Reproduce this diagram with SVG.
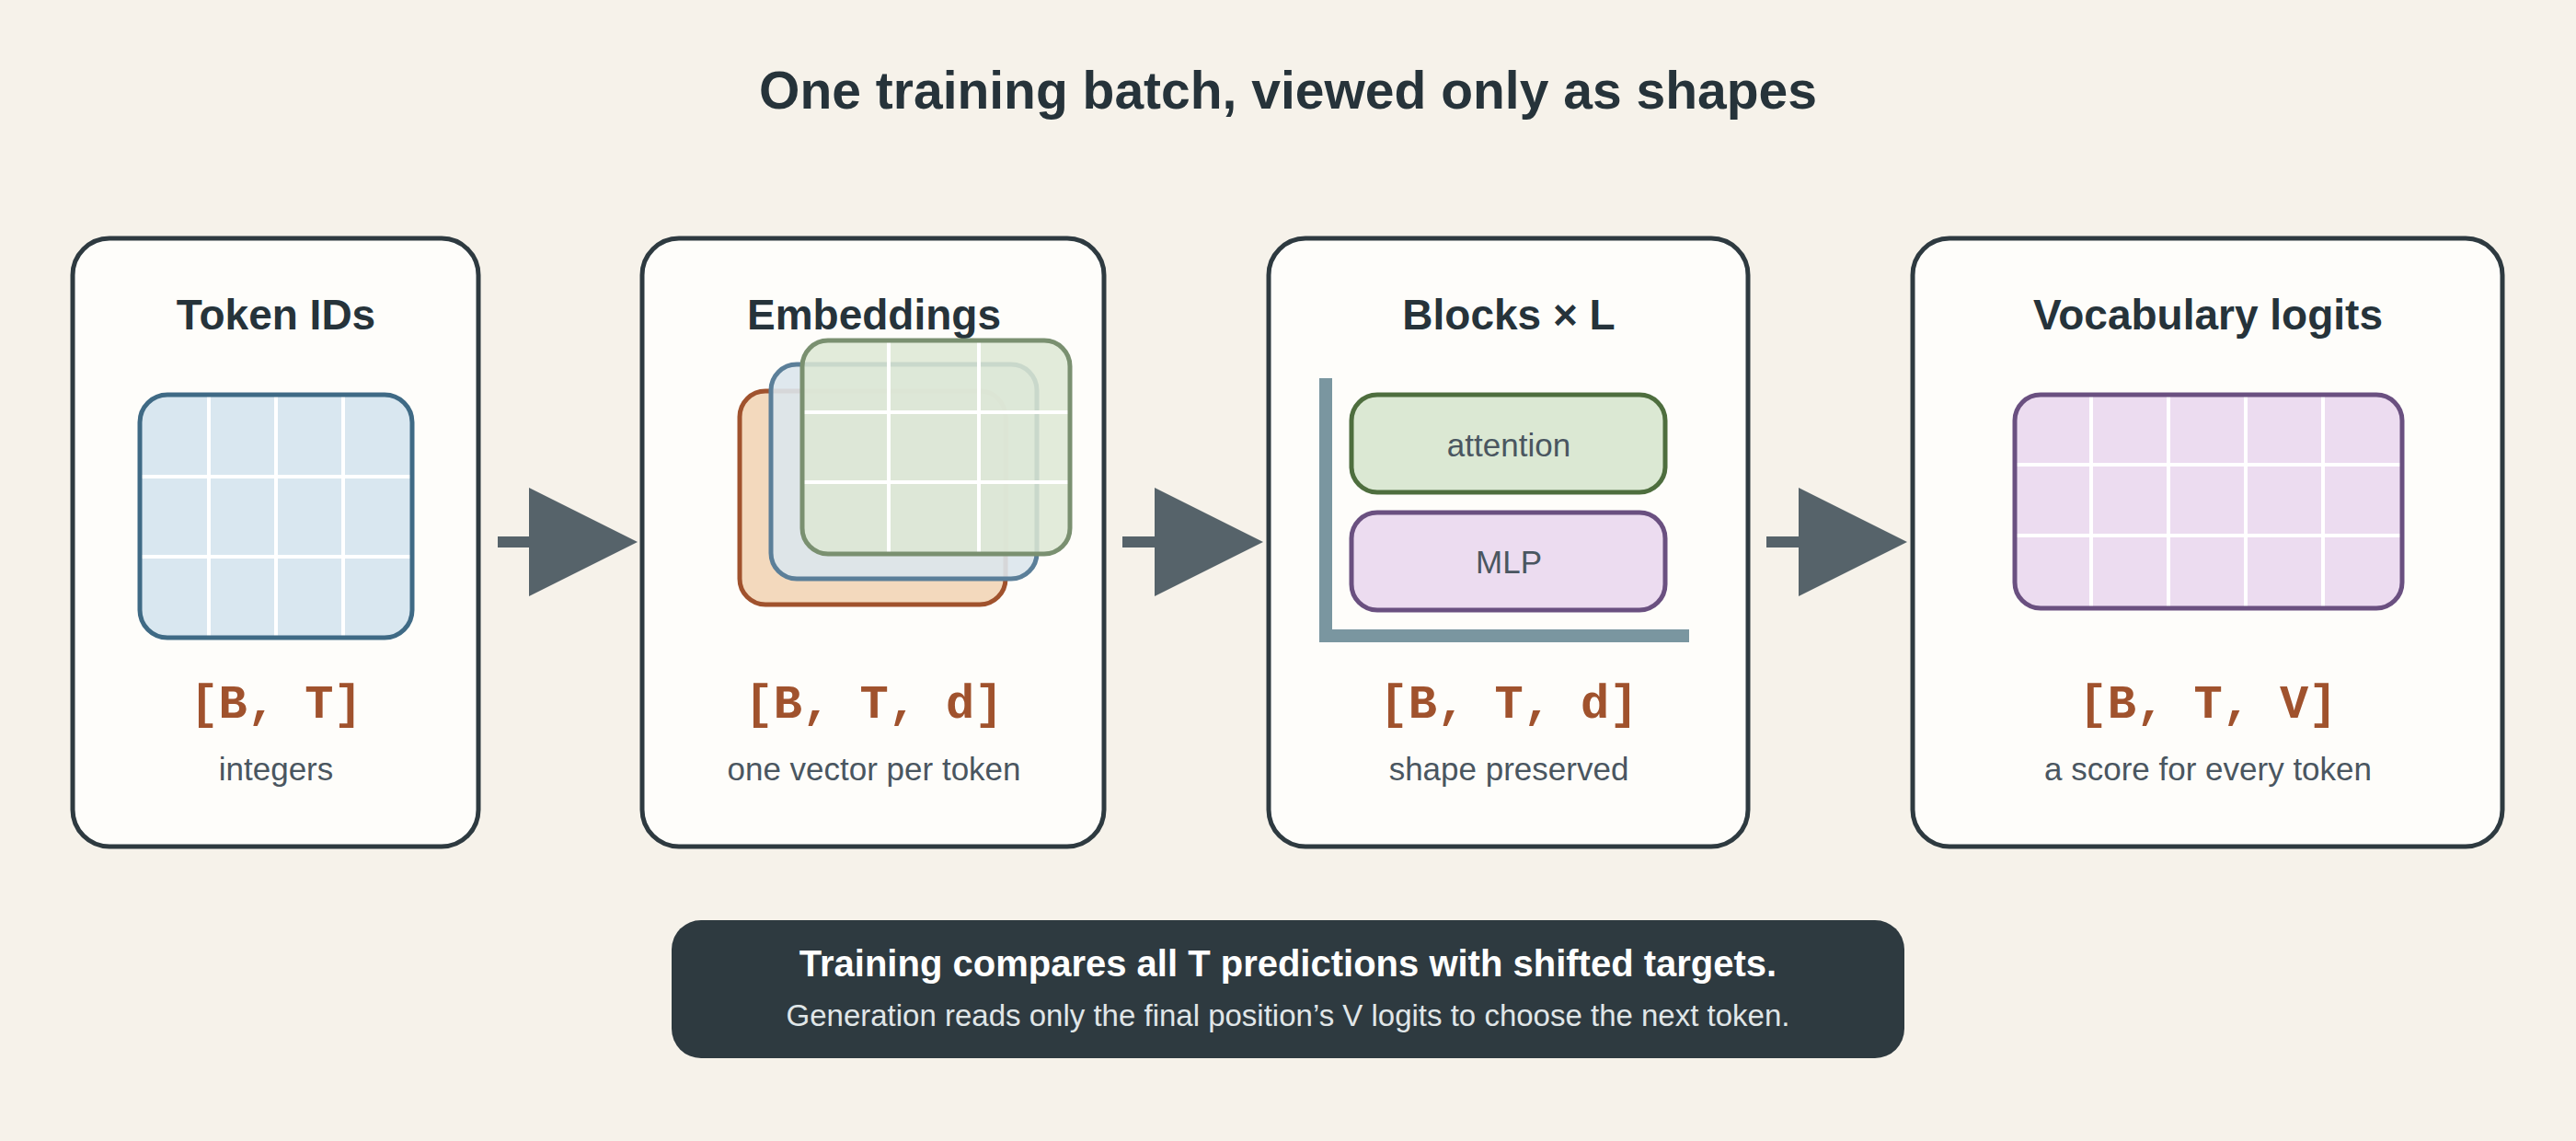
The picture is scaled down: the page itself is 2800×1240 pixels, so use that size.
<svg xmlns="http://www.w3.org/2000/svg" width="2800" height="1240" viewBox="0 0 2800 1240">
<style>
.card{fill:#fefdfa;stroke:#2e3a40;stroke-width:5}
.t{font-family:"Liberation Sans",Arial,sans-serif;font-weight:bold;font-size:46px;fill:#26333a;text-anchor:middle}
.sh{font-family:"Liberation Mono","DejaVu Sans Mono",monospace;font-weight:bold;font-size:52px;fill:#a0522d;text-anchor:middle}
.sub{font-family:"Liberation Sans",Arial,sans-serif;font-size:35px;fill:#4a5660;text-anchor:middle}
.g{stroke:#ffffff;stroke-width:4}
.arr{fill:#56636a}
</style>
<rect width="2800" height="1240" fill="#f6f2ea"/>
<text x="1400" y="118" class="t" style="font-size:57px">One training batch, viewed only as shapes</text>
<g id="token-ids">
<rect class="card" x="79" y="259" width="441" height="661" rx="40"/>
<text x="300" y="358" class="t">Token IDs</text>
<rect x="152" y="429" width="296" height="264" rx="30" fill="#d9e7f0"/>
<line class="g" x1="227" y1="429" x2="227" y2="693"/><line class="g" x1="300" y1="429" x2="300" y2="693"/><line class="g" x1="373" y1="429" x2="373" y2="693"/>
<line class="g" x1="152" y1="518" x2="448" y2="518"/><line class="g" x1="152" y1="605" x2="448" y2="605"/>
<rect x="152" y="429" width="296" height="264" rx="30" fill="none" stroke="#3f6a85" stroke-width="5"/>
<text x="300" y="780" class="sh">[B, T]</text>
<text x="300" y="848" class="sub">integers</text>
</g>
<g id="embeddings">
<rect class="card" x="698" y="259" width="502" height="661" rx="40"/>
<text x="950" y="358" class="t">Embeddings</text>
<rect x="804" y="425" width="289" height="232" rx="28" fill="#f3d9bd" stroke="#a0522d" stroke-width="5"/>
<rect x="838" y="396" width="289" height="233" rx="28" fill="#dce6ec" fill-opacity="0.9" stroke="#5b7f99" stroke-width="5"/>
<rect x="872" y="370" width="291" height="232" rx="28" fill="#dde8d4" fill-opacity="0.85"/>
<line class="g" x1="966" y1="370" x2="966" y2="602"/><line class="g" x1="1064" y1="370" x2="1064" y2="602"/>
<line class="g" x1="872" y1="448" x2="1163" y2="448"/><line class="g" x1="872" y1="524" x2="1163" y2="524"/>
<rect x="872" y="370" width="291" height="232" rx="28" fill="none" stroke="#7a9070" stroke-width="5"/>
<text x="950" y="780" class="sh">[B, T, d]</text>
<text x="950" y="848" class="sub">one vector per token</text>
</g>
<g id="blocks">
<rect class="card" x="1379" y="259" width="521" height="661" rx="40"/>
<text x="1640" y="358" class="t">Blocks × L</text>
<path d="M1434 411 H1448 V684 H1836 V698 H1434 Z" fill="#7a96a0"/>
<rect x="1469" y="429" width="341" height="106" rx="28" fill="#dbe8d3" stroke="#4e6e3e" stroke-width="5"/>
<text x="1640" y="496" class="sub">attention</text>
<rect x="1469" y="557" width="341" height="106" rx="28" fill="#ecdcf0" stroke="#6a5080" stroke-width="5"/>
<text x="1640" y="623" class="sub">MLP</text>
<text x="1640" y="780" class="sh">[B, T, d]</text>
<text x="1640" y="848" class="sub">shape preserved</text>
</g>
<g id="vocab-logits">
<rect class="card" x="2079" y="259" width="641" height="661" rx="40"/>
<text x="2400" y="358" class="t">Vocabulary logits</text>
<rect x="2190" y="429" width="421" height="232" rx="28" fill="#ecdcf0"/>
<line class="g" x1="2273" y1="429" x2="2273" y2="661"/><line class="g" x1="2357" y1="429" x2="2357" y2="661"/><line class="g" x1="2441" y1="429" x2="2441" y2="661"/><line class="g" x1="2525" y1="429" x2="2525" y2="661"/>
<line class="g" x1="2190" y1="505" x2="2611" y2="505"/><line class="g" x1="2190" y1="582" x2="2611" y2="582"/>
<rect x="2190" y="429" width="421" height="232" rx="28" fill="none" stroke="#6a5080" stroke-width="5"/>
<text x="2400" y="780" class="sh">[B, T, V]</text>
<text x="2400" y="848" class="sub">a score for every token</text>
</g>
<g id="connectors">
<rect class="arr" x="541" y="583" width="36" height="12"/><polygon class="arr" points="575,530 693,589 575,648"/>
<rect class="arr" x="1220" y="583" width="36" height="12"/><polygon class="arr" points="1255,530 1373,589 1255,648"/>
<rect class="arr" x="1920" y="583" width="36" height="12"/><polygon class="arr" points="1955,530 2073,589 1955,648"/>
</g>
<g id="note">
<rect x="730" y="1000" width="1340" height="150" rx="32" fill="#2e3a40"/>
<text x="1400" y="1061" class="t" style="fill:#ffffff;font-size:40px">Training compares all T predictions with shifted targets.</text>
<text x="1400" y="1115" class="sub" style="fill:#e0e6e8;font-size:33px">Generation reads only the final position’s V logits to choose the next token.</text>
</g>
</svg>
